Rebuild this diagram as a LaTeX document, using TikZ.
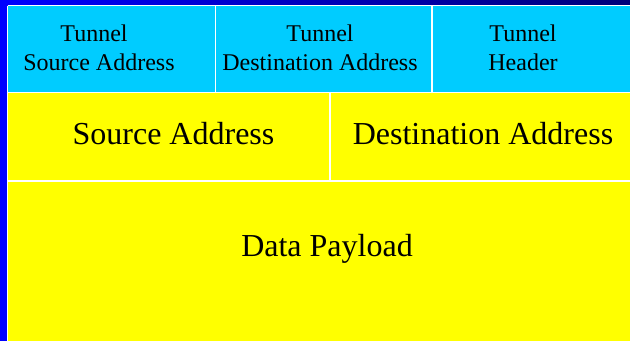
\documentclass[tikz,border=0pt]{standalone}
\usepackage{fontspec}
\setmainfont{Liberation Serif}
\definecolor{cyanbg}{RGB}{0,204,255}
\definecolor{yellowbg}{RGB}{255,255,0}
\definecolor{bluebg}{RGB}{0,0,255}
\definecolor{navybg}{RGB}{0,0,120}
\tikzset{
  small/.style={anchor=base, inner sep=0pt, font=\fontsize{24}{29}\selectfont},
  big/.style={anchor=base, inner sep=0pt, font=\fontsize{32}{38}\selectfont},
  sep/.style={draw=white, line width=1.2pt}
}
\begin{document}
\begin{tikzpicture}[x=1pt,y=-1pt]
\useasboundingbox (0,0) rectangle (630,341);
% background areas
\fill[bluebg] (0,0) rectangle (7.5,341);
\shade[left color=bluebg, right color=navybg, shading angle=90] (0,0) rectangle (630,5.5);
\fill[cyanbg] (7.5,5.5) rectangle (630,92.5);
\fill[yellowbg] (7.5,92.5) rectangle (630,341);
% separator lines
\draw[sep] (7.5,5.5) -- (630,5.5);
\draw[sep] (7.5,5.5) -- (7.5,341);
\draw[sep] (7.5,92.5) -- (630,92.5);
\draw[sep] (215.5,5.5) -- (215.5,92.5);
\draw[sep] (432,5.5) -- (432,92.5);
\draw[sep] (7.5,181) -- (630,181);
\draw[sep] (330,92.5) -- (330,181);
% tunnel header texts
\node[small] (t1a) at (94,41) {Tunnel};
\node[small] (t1b) at (99,70) {Source Address};
\node[small] (t2a) at (320,41) {Tunnel};
\node[small] (t2b) at (320,70) {Destination Address};
\node[small] (t3a) at (523,41) {Tunnel};
\node[small] (t3b) at (523,70) {Header};
% inner packet texts
\node[big] (src) at (173.5,144) {Source Address};
\node[big] (dst) at (483,144) {Destination Address};
\node[big] (data) at (327,256) {Data Payload};
\end{tikzpicture}
\end{document}
